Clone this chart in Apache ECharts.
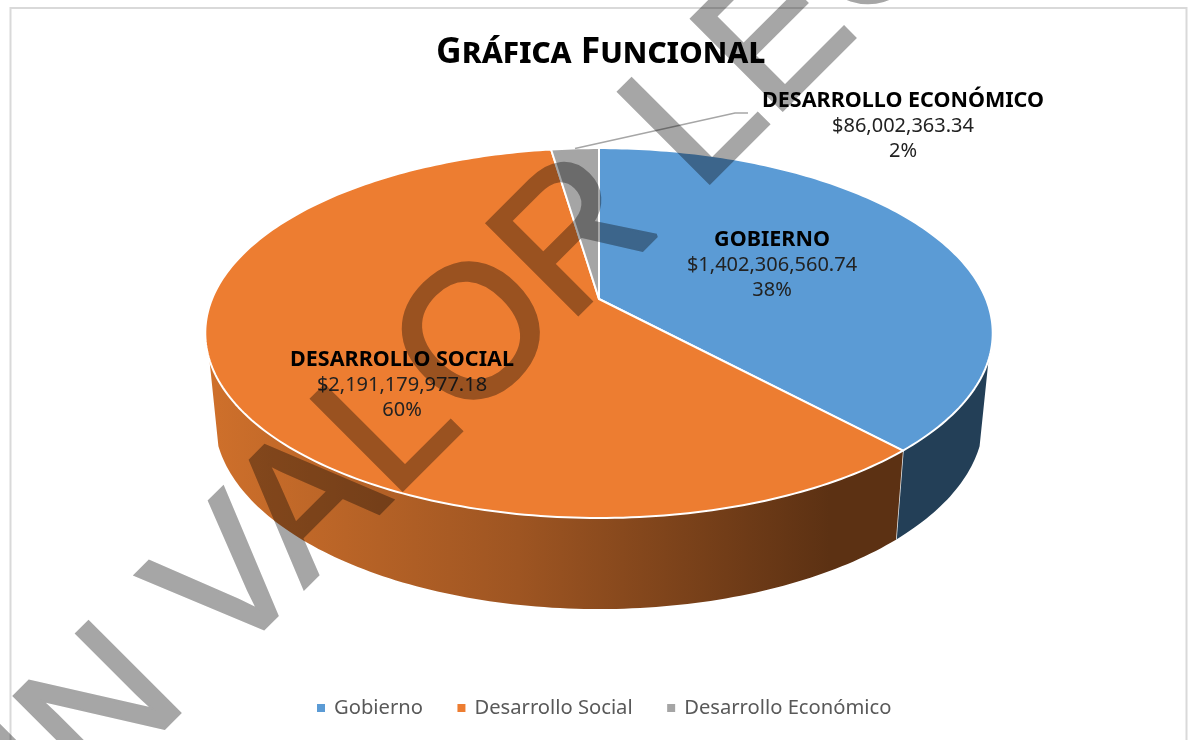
<!DOCTYPE html>
<html>
<head>
<meta charset="utf-8">
<title>Gráfica Funcional</title>
<style>
  html, body { margin: 0; padding: 0; background: #fff; }
  #main { width: 1190px; height: 740px; }
</style>
<script src="https://cdn.jsdelivr.net/npm/echarts@6/dist/echarts.min.js"></script>
</head>
<body>
<div id="main"></div>
<script>
// datos de la grafica
const categorias = ['Gobierno', 'Desarrollo Social', 'Desarrollo Económico'];
const valores = [1402306560.74, 2191179977.18, 86002363.34];
const etiquetas = ['GOBIERNO', 'DESARROLLO SOCIAL', 'DESARROLLO ECONÓMICO'];
const colores = ['#5B9BD5', '#ED7D31', '#A5A5A5'];

const FUENTE = '"Noto Sans", sans-serif';
const total = valores.reduce((a, b) => a + b, 0);

// disco en perspectiva, apice del pastel en (cx, cy)
const cx = 599, cy = 299, radio = 387, aplastado = 178.7, persp = 0.184;
// cara de abajo
const bajoX = 0.977, bajoY = 1.03, grosor = 84.5;
// parte visible del lateral, en grados
const ladoDesde = 108.7, ladoHasta = 251.3;

// centro de cada etiqueta
const centrosEtiqueta = [[772, 265], [402, 385], [903, 126]];

function arriba(grados) {
  const t = grados * Math.PI / 180;
  const u = Math.sin(t), v = -Math.cos(t), w = 1 - persp * v;
  return [cx + radio * u / w, cy + aplastado * v / w];
}
function abajo(grados) {
  const p = arriba(grados);
  return [cx + bajoX * (p[0] - cx), cy + grosor + bajoY * (p[1] - cy)];
}
function arco(fn, desde, hasta) {
  const pts = [];
  const n = Math.max(2, Math.ceil(Math.abs(hasta - desde)));
  for (let i = 0; i <= n; i++) pts.push(fn(desde + (hasta - desde) * i / n));
  return pts;
}

// relleno del lateral de cada rebanada
const rellenoLado = [
  '#233F57',
  new echarts.graphic.LinearGradient(207, 0, 830, 0, [
    { offset: 0, color: '#CF702B' },
    { offset: 0.5, color: '#9E5522' },
    { offset: 1, color: '#5C3113' }
  ], true),
  '#636363'
];

function formatoDinero(v) {
  return '$' + v.toLocaleString('en-US', { minimumFractionDigits: 2, maximumFractionDigits: 2 });
}

function makeRender(i) {
  return function () {
    const acumulado = valores.slice(0, i).reduce((a, b) => a + b, 0);
    const ini = acumulado / total * 360;
    const fin = (acumulado + valores[i]) / total * 360;
    const hijos = [];

    // lateral
    const a = Math.max(ini, ladoDesde), b = Math.min(fin, ladoHasta);
    if (b > a) {
      const sup = arco(arriba, a, b);
      const inf = arco(abajo, b, a);
      hijos.push({
        type: 'polygon',
        shape: { points: sup.concat(inf) },
        style: { fill: rellenoLado[i] }
      });
      if (fin < ladoHasta) {
        const p = arriba(fin), q = abajo(fin);
        hijos.push({
          type: 'line',
          shape: { x1: p[0], y1: p[1], x2: q[0], y2: q[1] },
          style: { stroke: '#E8E8E8', lineWidth: 1.5 }
        });
      }
    }

    // cara de arriba
    hijos.push({
      type: 'polygon',
      shape: { points: [[cx, cy]].concat(arco(arriba, ini, fin)) },
      style: { fill: colores[i], stroke: '#FFFFFF', lineWidth: 2, lineJoin: 'round' }
    });

    // linea guia de la rebanada chica
    if (i === 2) {
      const c = centrosEtiqueta[i];
      hijos.push({
        type: 'polyline',
        shape: { points: [arriba((ini + fin) / 2), [c[0] - 168, c[1] - 13], [c[0] - 155, c[1] - 13]] },
        style: { stroke: '#A6A6A6', lineWidth: 1.5, fill: null }
      });
    }

    // etiqueta
    const pct = Math.round(valores[i] / total * 100);
    hijos.push({
      type: 'text',
      x: centrosEtiqueta[i][0],
      y: centrosEtiqueta[i][1],
      style: {
        text: '{n|' + etiquetas[i] + '}\n{v|' + formatoDinero(valores[i]) + '}\n{v|' + pct + '%}',
        align: 'center',
        verticalAlign: 'middle',
        rich: {
          n: { fontFamily: FUENTE, fontSize: 21.5, fontWeight: 'bold', fill: '#000', color: '#000', lineHeight: 25, align: 'center' },
          v: { fontFamily: FUENTE, fontSize: 20, fill: '#222', color: '#222', lineHeight: 25, align: 'center' }
        }
      }
    });
    return { type: 'group', children: hijos };
  };
}

const myChart = echarts.init(document.getElementById('main'));

const option = {
  animation: false,
  backgroundColor: '#FFFFFF',
  title: {
    text: 'Gráfica Funcional',
    left: 431,
    top: 30,
    textStyle: {
      fontFamily: FUENTE,
      fontStyle: 'small-caps',
      fontWeight: 'bold',
      fontSize: 35.5,
      color: '#000'
    }
  },
  legend: {
    data: categorias,
    left: 312,
    top: 693,
    itemWidth: 16,
    itemHeight: 8,
    itemGap: 34.5,
    icon: 'path://M0 0H10V10H0Z',
    textStyle: { fontFamily: FUENTE, fontSize: 20.2, color: '#595959' }
  },
  graphic: {
    elements: [
      // marco
      {
        type: 'rect',
        shape: { x: 10.5, y: 8, width: 1176, height: 760 },
        style: { fill: null, stroke: '#D9D9D9', lineWidth: 2 },
        silent: true
      },
      // marca de agua
      {
        type: 'text',
        zlevel: 5,
        x: 0,
        y: 951,
        rotation: Math.PI / 4,
        silent: true,
        style: {
          text: 'SIN VALOR LEGAL',
          fontFamily: '"Liberation Sans", sans-serif',
          fontSize: 186,
          fill: '#A6A6A6',
          stroke: '#A6A6A6',
          lineWidth: 4,
          lineJoin: 'miter',
          textAlign: 'left',
          textVerticalAlign: 'bottom'
        }
      }
    ]
  },
  series: categorias.map((nombre, i) => ({
    type: 'custom',
    name: nombre,
    coordinateSystem: 'none',
    silent: true,
    itemStyle: { color: colores[i] },
    renderItem: makeRender(i),
    data: [valores[i]]
  }))
};

option && myChart.setOption(option);

// la marca de agua oscurece lo que tiene debajo
const capa = document.querySelector('canvas[data-zr-dom-id="zr_5"]');
if (capa) capa.style.mixBlendMode = 'multiply';
</script>
</body>
</html>
